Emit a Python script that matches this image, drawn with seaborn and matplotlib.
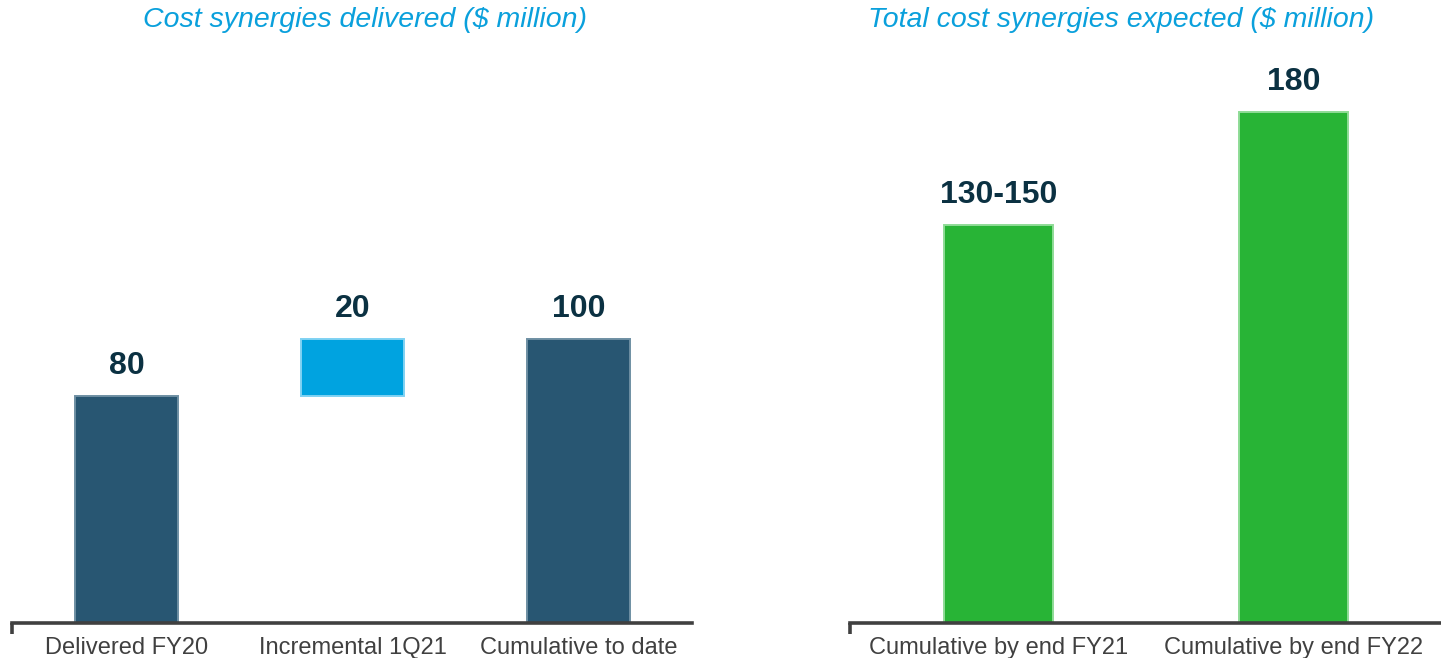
import matplotlib
matplotlib.use("Agg")
import matplotlib.pyplot as plt
import seaborn as sns
import pandas as pd

# Cost synergies delivered so far ($ million)
delivered_labels = ["Delivered FY20", "Incremental 1Q21", "Cumulative to date"]
delivered_fy20 = 80
incremental_1q21 = 20
cumulative_to_date = delivered_fy20 + incremental_1q21

# Total cost synergies expected ($ million), as low/high of the guided range
expected_labels = ["Cumulative by end FY21", "Cumulative by end FY22"]
expected_low = [130, 180]
expected_high = [150, 180]

NAVY = "#285672"
NAVY_EDGE = "#6E8FA3"
SKY = "#00A3E0"
SKY_EDGE = "#7FD2F3"
GREEN = "#28B436"
GREEN_EDGE = "#8FDC97"
TITLE_BLUE = "#0AA0DC"
VALUE_COLOR = "#0B3142"
AXIS_COLOR = "#404040"

sns.set_theme(style="white")
plt.rcParams["font.family"] = ["Liberation Sans", "DejaVu Sans"]

W, H = 1441, 658
fig = plt.figure(figsize=(W / 100, H / 100), dpi=100)

base_px = 623          # baseline, pixels from top
top_px = 50            # axes top, pixels from top
px_per_unit = 2.84
ymax = (base_px - top_px) / px_per_unit


def make_axes(x0, x1):
    return fig.add_axes([x0 / W, (H - base_px) / H, (x1 - x0) / W, (base_px - top_px) / H])


def style_axes(ax):
    ax.set_ylim(0, ymax)
    for side in ("left", "right", "top"):
        ax.spines[side].set_visible(False)
    ax.spines["bottom"].set_color(AXIS_COLOR)
    ax.spines["bottom"].set_linewidth(2.6)
    ax.set_yticks([])
    ax.set_xlabel("")
    ax.set_ylabel("")
    ax.tick_params(axis="x", length=0, pad=10, labelsize=17, labelcolor=AXIS_COLOR)
    # short downward tick at the left end of the baseline
    ax.plot([0, 0], [0, -0.019], transform=ax.transAxes, color=AXIS_COLOR,
            lw=2.6, clip_on=False, solid_capstyle="butt")


def label_bar(ax, patch, text):
    x = patch.get_x() + patch.get_width() / 2
    y = patch.get_y() + patch.get_height()
    ax.annotate(text, (x, y), xytext=(0, 11), textcoords="offset points",
                ha="center", va="bottom", fontsize=23, fontweight="bold",
                color=VALUE_COLOR)


# ---- Left panel: waterfall of delivered synergies ----
ax1 = make_axes(12, 692)
left_df = pd.DataFrame({
    "label": delivered_labels,
    "value": [delivered_fy20, incremental_1q21, cumulative_to_date],
    "bottom": [0, delivered_fy20, 0],
})
left_palette = {delivered_labels[0]: NAVY, delivered_labels[1]: SKY, delivered_labels[2]: NAVY}
left_edges = [NAVY_EDGE, SKY_EDGE, NAVY_EDGE]
sns.barplot(data=left_df, x="label", y="value", hue="label", palette=left_palette,
            order=delivered_labels, hue_order=delivered_labels, legend=False,
            width=0.455, saturation=1, ax=ax1)
ax1.set_xlim(-0.507, 2.502)
style_axes(ax1)
for patch, bottom, edge, val in zip(ax1.patches, left_df["bottom"], left_edges, left_df["value"]):
    patch.set_y(bottom)
    patch.set_edgecolor(edge)
    patch.set_linewidth(1.4)
    label_bar(ax1, patch, f"{val}")

# ---- Right panel: expected synergies ----
ax2 = make_axes(850, 1441)
right_df = pd.DataFrame({
    "label": expected_labels,
    "value": [(lo + hi) / 2 for lo, hi in zip(expected_low, expected_high)],
    "text": [f"{lo}-{hi}" if lo != hi else f"{lo}" for lo, hi in zip(expected_low, expected_high)],
})
sns.barplot(data=right_df, x="label", y="value", color=GREEN, order=expected_labels,
            width=0.37, saturation=1, ax=ax2)
ax2.set_xlim(-0.503, 1.5)
style_axes(ax2)
for patch, text in zip(ax2.patches, right_df["text"]):
    patch.set_edgecolor(GREEN_EDGE)
    patch.set_linewidth(1.4)
    label_bar(ax2, patch, text)

# ---- Panel titles ----
fig.text(365 / W, 1 - 20 / H, "Cost synergies delivered ($ million)", ha="center",
         va="center", fontsize=20.5, style="italic", color=TITLE_BLUE)
fig.text(1121 / W, 1 - 20 / H, "Total cost synergies expected ($ million)", ha="center",
         va="center", fontsize=20.5, style="italic", color=TITLE_BLUE)

fig.savefig("out.png", dpi=100)
